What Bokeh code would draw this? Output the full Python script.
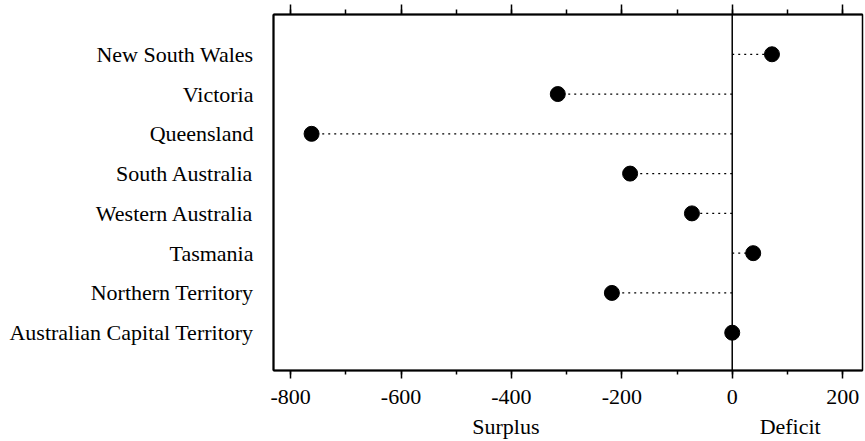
from bokeh.plotting import figure
from bokeh.models import (Range1d, LinearAxis, FixedTicker, SingleIntervalTicker,
                          Span, ColumnDataSource, CustomLabelingPolicy)
from bokeh.embed import file_html
from bokeh.resources import INLINE

states = ["New South Wales", "Victoria", "Queensland", "South Australia",
          "Western Australia", "Tasmania", "Northern Territory",
          "Australian Capital Territory"]
balance = [72, -316, -762, -185, -73, 38, -218, 0]
x_ticks = [-800, -600, -400, -200, 0, 200]
side_labels = ["Surplus", "Deficit"]
side_label_x = [-410, 105]

ypos = list(range(len(states), 0, -1))
src = ColumnDataSource(dict(y=ypos, v=balance, zero=[0] * len(states)))

FONT = "Liberation Serif"
FSIZE = "22px"

p = figure(width=865, height=441, output_backend="svg", toolbar_location=None,
           x_range=Range1d(-831, 236), y_range=Range1d(0.05, 9.0),
           x_axis_type=None, y_axis_type=None,
           min_border_left=273, min_border_right=3, min_border_top=13,
           min_border_bottom=70)
p.grid.visible = False
p.outline_line_color = "black"
p.outline_line_width = 1.5
p.background_fill_color = "white"
p.border_fill_color = "white"

# bottom axis
xb = LinearAxis(ticker=SingleIntervalTicker(interval=200, num_minor_ticks=2))
xb.major_label_overrides = {t: str(t) for t in x_ticks}
xb.axis_line_width = 2
xb.major_tick_in = 0
xb.major_tick_out = 8
xb.minor_tick_in = 0
xb.minor_tick_out = 4
xb.major_tick_line_width = 1.5
xb.minor_tick_line_width = 1.5
xb.major_label_standoff = 11
xb.major_label_text_font = FONT
xb.major_label_text_font_size = FSIZE
xb.major_label_text_color = "black"
p.add_layout(xb, "below")

# second row below: Surplus / Deficit
xs = LinearAxis(ticker=FixedTicker(ticks=side_label_x))
xs.major_label_overrides = {x: s for x, s in zip(side_label_x, side_labels)}
xs.axis_line_color = None
xs.major_tick_line_color = None
xs.minor_tick_line_color = None
xs.major_label_standoff = 1
xs.major_label_text_font = FONT
xs.major_label_text_font_size = FSIZE
xs.major_label_text_color = "black"
p.add_layout(xs, "below")

# top axis, ticks only
xt = LinearAxis(ticker=SingleIntervalTicker(interval=200, num_minor_ticks=2))
xt.axis_line_width = 2
xt.major_tick_in = 0
xt.major_tick_out = 10
xt.minor_tick_in = 0
xt.minor_tick_out = 5
xt.major_tick_line_width = 1.5
xt.minor_tick_line_width = 1.5
xt.major_label_text_font_size = "1px"
xt.major_label_standoff = 0
xt.major_label_policy = CustomLabelingPolicy(code="""
    const all = [...indices]
    for (const i of all) indices.unset(i)
    return indices
""")
p.add_layout(xt, "above")

# left axis with state names
yl = LinearAxis(ticker=FixedTicker(ticks=ypos))
yl.major_label_overrides = {y: s for y, s in zip(ypos, states)}
yl.axis_line_width = 2
yl.major_tick_line_color = None
yl.minor_tick_line_color = None
yl.major_label_standoff = 14
yl.major_label_text_font = FONT
yl.major_label_text_font_size = FSIZE
yl.major_label_text_color = "black"
p.add_layout(yl, "left")

p.add_layout(Span(location=0, dimension="height", line_color="black",
                  line_width=1.5))

p.segment(x0="zero", y0="y", x1="v", y1="y", source=src, line_color="black",
          line_width=1.3, line_dash="2 4")
p.scatter(x="v", y="y", source=src, size=15, fill_color="black",
          line_color="black")

open("out.html", "w").write(file_html(p, INLINE))
